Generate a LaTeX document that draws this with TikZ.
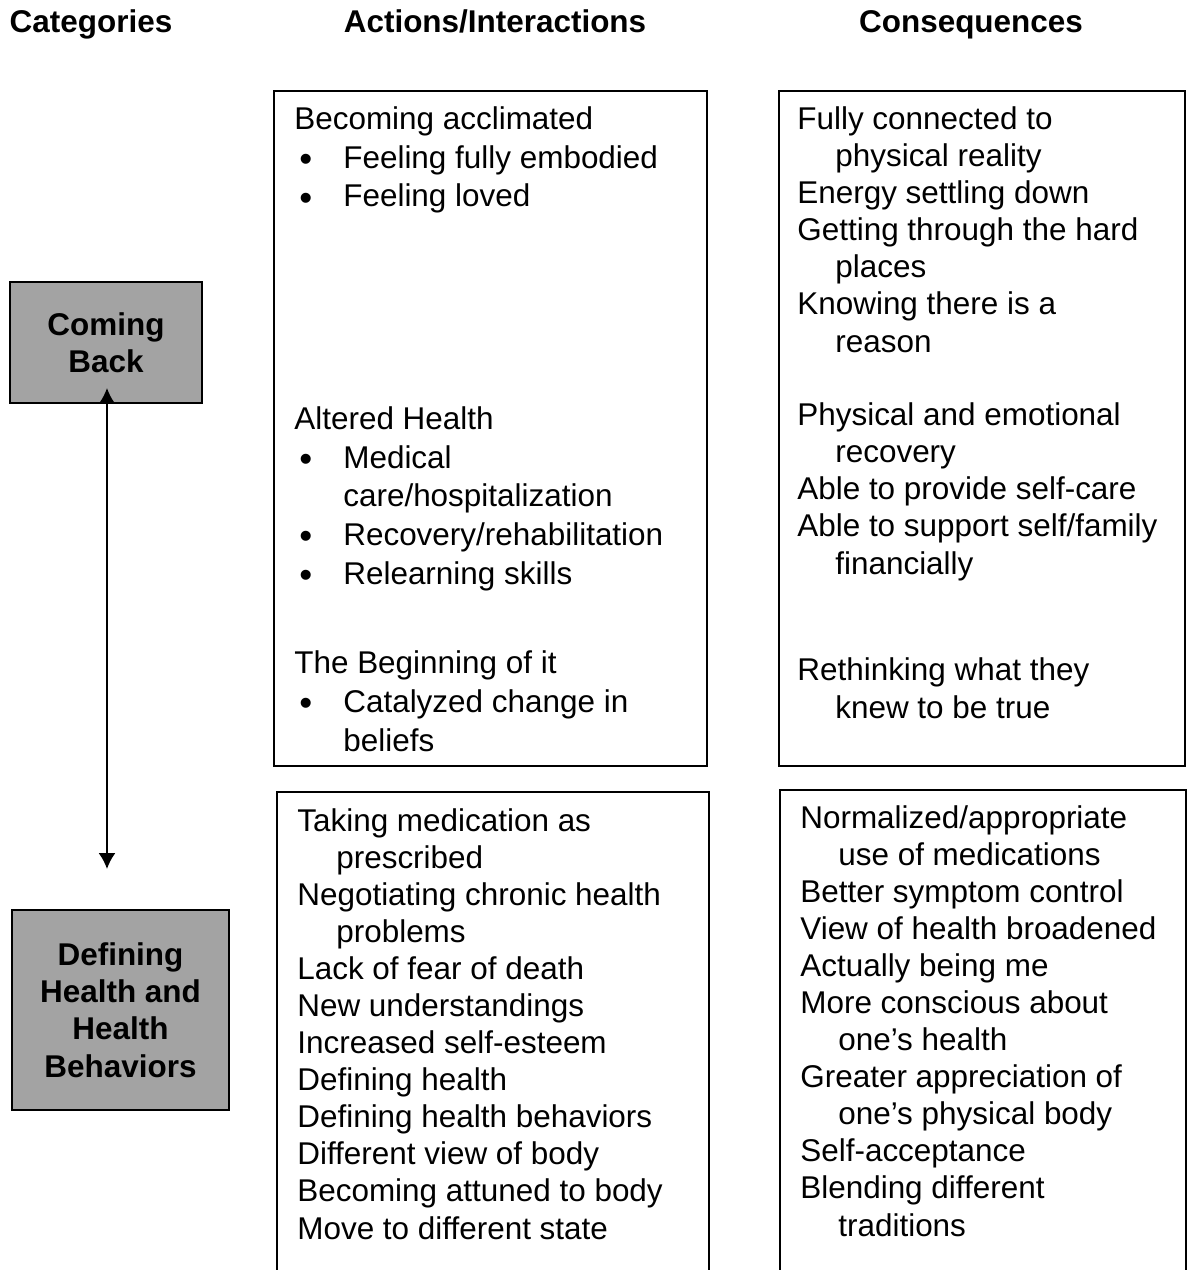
\documentclass[tikz,border=0pt]{standalone}
\usepackage{fontspec}
\setmainfont{Liberation Sans}
\usepackage{tikz}
\usetikzlibrary{arrows.meta}

\newcommand{\bul}{\makebox[0.98cm][l]{\hspace{0.1cm}\raisebox{-0.07cm}[0pt][0pt]{\fontsize{21pt}{21pt}\selectfont\textbullet}}}
\newcommand{\hng}{\hspace*{0.76cm}}
\newcommand{\sub}{\hspace*{0.98cm}}

\begin{document}
\begin{tikzpicture}[x=0.02cm, y=-0.02cm,
	head/.style={anchor=base, font=\fontsize{17.9pt}{21pt}\selectfont\bfseries, inner sep=0pt},
	txt/.style={anchor=base west, align=left, inner sep=0pt, font=\fontsize{17.9pt}{21.1pt}\selectfont},
	txtwide/.style={txt, font=\fontsize{17.9pt}{22pt}\selectfont},
	catbox/.style={draw=black, line width=1.1pt, fill=black!36, align=center, inner sep=0pt,
		font=\fontsize{17.9pt}{21.2pt}\selectfont\bfseries},
	frame/.style={draw=black, line width=1.1pt}]
			\useasboundingbox (0,0) rectangle (1187,1270);

			% column heads
			\node (cats) at (91,33) [head] {Categories};
			\node (acts) at (495,33) [head] {Actions/Interactions};
			\node (cons) at (971,33) [head] {Consequences};

			% categories
			\node (back) at (106,342.5) [catbox, minimum width=3.84cm, minimum height=2.42cm] {Coming\\Back};
			\node (defn) at (120.5,1010) [catbox, minimum width=4.34cm, minimum height=4cm] {Defining\\Health and\\Health\\Behaviors};
			\coordinate (up) at (107,388);
			\coordinate (down) at (107,869);
			\draw[{Latex[length=0.32cm,width=0.34cm]}-{Latex[length=0.32cm,width=0.34cm]}, line width=1.1pt] (up)--(down);

			% frames
			\draw[frame] (274,91) rectangle (707,766);
			\draw[frame] (779,91) rectangle (1185,766);
			\draw[frame] (277,1280) |- (709,792) -- (709,1280);
			\draw[frame] (780,1280) |- (1186,790) -- (1186,1280);

			% coming back (base = last line)
			\node (accl) at (294,207) [txtwide] {Becoming acclimated\\ \bul Feeling fully embodied\\ \bul Feeling loved};
			\node (altr) at (294,584) [txtwide] {Altered Health\\ \bul Medical\\ \sub care/hospitalization\\ \bul Recovery/rehabilitation\\ \bul Relearning skills};
			\node (begn) at (294,751) [txtwide] {The Beginning of it\\ \bul Catalyzed change in\\ \sub beliefs};

			\node (conn) at (797,352) [txt] {Fully connected to\\ \hng physical reality\\ Energy settling down\\ Getting through the hard\\ \hng places\\ Knowing there is a\\ \hng reason};
			\node (recv) at (797,574) [txt] {Physical and emotional\\ \hng recovery\\ Able to provide self-care\\ Able to support self/family\\ \hng financially};
			\node (rthk) at (797,718) [txt] {Rethinking what they\\ \hng knew to be true};

			% defining health
			\node (meds) at (297,1239) [txt] {Taking medication as\\ \hspace*{0.78cm}prescribed\\ Negotiating chronic health\\ \hspace*{0.78cm}problems\\ Lack of fear of death\\ New understandings\\ Increased self-esteem\\ Defining health\\ Defining health behaviors\\ Different view of body\\ Becoming attuned to body\\ Move to different state};
			\node (norm) at (800,1236) [txt] {Normalized/appropriate\\ \hng use of medications\\ Better symptom control\\ View of health broadened\\ Actually being me\\ More conscious about\\ \hng one’s health\\ Greater appreciation of\\ \hng one’s physical body\\ Self-acceptance\\ Blending different\\ \hng traditions};
		\end{tikzpicture}
\end{document}
